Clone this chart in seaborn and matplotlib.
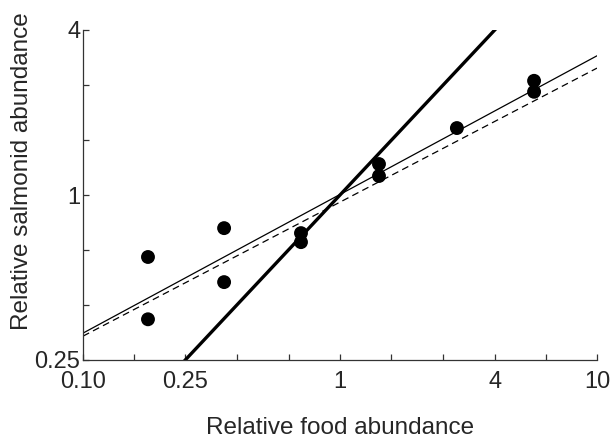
import numpy as np
import pandas as pd
import matplotlib
matplotlib.use("Agg")
import matplotlib.pyplot as plt
import seaborn as sns
from matplotlib.ticker import FixedLocator, FixedFormatter, NullFormatter

# ---- data ----
food = [0.179, 0.179, 0.354, 0.354, 0.705, 0.705, 1.418, 1.418, 2.85, 5.69, 5.69]
salmon = [0.594, 0.352, 0.757, 0.481, 0.726, 0.673, 1.297, 1.173, 1.755, 2.61, 2.38]

# fitted lines on log10 scale: log10(y) = intercept + slope * log10(x)
line_names = ["thick", "thin", "dashed"]
line_slopes = [1.0, 0.506, 0.489]
line_intercepts = [0.0, 0.002, -0.026]

x_tick_values = [0.1, 0.25, 1, 4, 10]
x_tick_labels = ["0.10", "0.25", "1", "4", "10"]
y_tick_values = [0.25, 1, 4]
y_tick_labels = ["0.25", "1", "4"]

sns.set_style("ticks")
plt.rcParams["font.family"] = ["Liberation Sans", "DejaVu Sans"]

fig = plt.figure(figsize=(6.14, 4.41), dpi=100)
ax = fig.add_axes([83 / 614, 81 / 441, 514 / 614, 330 / 441])

xs = np.logspace(-1, 1, 300)
styles = {
    "thick": dict(linewidth=2.4, linestyle="-"),
    "thin": dict(linewidth=0.9, linestyle="-"),
    "dashed": dict(linewidth=0.9, linestyle=(0, (5.5, 3.5))),
}
for name, m, b in zip(line_names, line_slopes, line_intercepts):
    ys = 10 ** (b + m * np.log10(xs))
    df = pd.DataFrame({"x": xs, "y": ys})
    sns.lineplot(data=df, x="x", y="y", ax=ax, color="black",
                 estimator=None, sort=False, zorder=2, **styles[name])

pts = pd.DataFrame({"food": food, "salmon": salmon})
sns.scatterplot(data=pts, x="food", y="salmon", ax=ax, color="black",
                s=100, edgecolor="none", zorder=3)

ax.set_xscale("log")
ax.set_yscale("log")
ax.set_xlim(0.1, 10)
ax.set_ylim(0.25, 4)

ax.xaxis.set_major_locator(FixedLocator(x_tick_values))
ax.xaxis.set_major_formatter(FixedFormatter(x_tick_labels))
ax.xaxis.set_minor_locator(FixedLocator(10 ** np.array([-0.8, -0.4, -0.2, 0.2, 0.4, 0.8])))
ax.xaxis.set_minor_formatter(NullFormatter())
ax.yaxis.set_major_locator(FixedLocator(y_tick_values))
ax.yaxis.set_major_formatter(FixedFormatter(y_tick_labels))
ax.yaxis.set_minor_locator(FixedLocator(10 ** np.array([-0.4, -0.2, 0.2, 0.4])))
ax.yaxis.set_minor_formatter(NullFormatter())

ax.tick_params(which="both", direction="in", length=4, width=0.9, color="#333333")
ax.tick_params(axis="x", which="major", labelsize=17, pad=8)
ax.tick_params(axis="y", which="major", labelsize=17, pad=2)
for lbl in ax.get_yticklabels():
    lbl.set_va("center_baseline")

sns.despine(ax=ax)
for sp in ["left", "bottom"]:
    ax.spines[sp].set_linewidth(0.9)
    ax.spines[sp].set_color("#333333")

ax.set_xlabel("Relative food abundance", fontsize=17.5, va="center", ha="center")
ax.xaxis.set_label_coords(0.5, -0.206)
ax.set_ylabel("Relative salmonid abundance", fontsize=17.5, va="center", ha="center")
ax.yaxis.set_label_coords(-0.118, 0.573)

fig.savefig("out.png", dpi=100)
